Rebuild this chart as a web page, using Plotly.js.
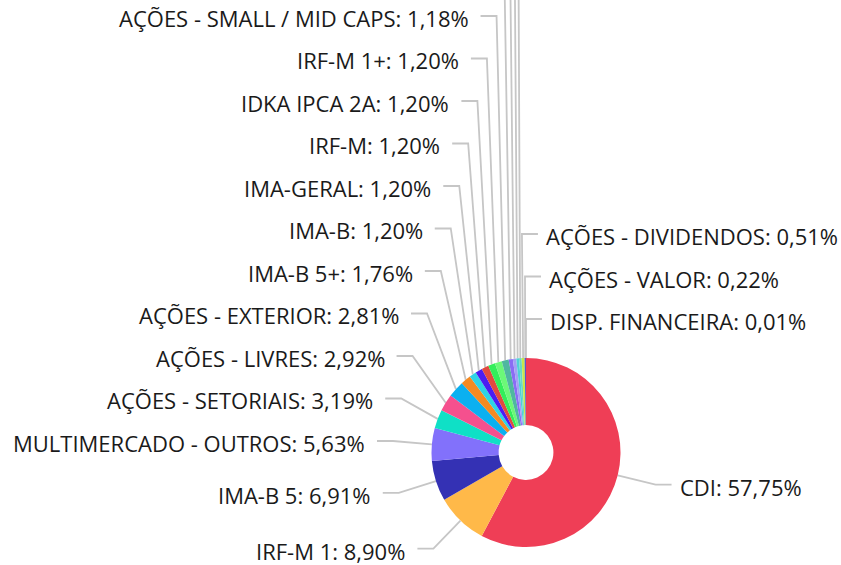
<!DOCTYPE html>
<html>
<head>
<meta charset="utf-8">
<script src="https://cdn.plot.ly/plotly-3.0.1.min.js"></script>
<style>
html, body { margin: 0; padding: 0; background: #ffffff; }
#chart { width: 841px; height: 565px; }
</style>
</head>
<body>
<div id="chart"></div>
<script>
// ---- data (percent of portfolio, clockwise from 12 o'clock) ----
const categories = [
  "CDI", "IRF-M 1", "IMA-B 5", "MULTIMERCADO - OUTROS", "AÇÕES - SETORIAIS",
  "AÇÕES - LIVRES", "AÇÕES - EXTERIOR", "IMA-B 5+", "IMA-B", "IMA-GERAL",
  "IRF-M", "IDKA IPCA 2A", "IRF-M 1+", "AÇÕES - SMALL / MID CAPS",
  "FUNDO IMOBILIÁRIO", "CRÉDITO PRIVADO", "IDKA IPCA 3A", "AÇÕES - ÍNDICE ATIVO",
  "AÇÕES - DIVIDENDOS", "AÇÕES - VALOR", "DISP. FINANCEIRA"
];
const values = [
  57.75, 8.90, 6.91, 5.63, 3.19,
  2.92, 2.81, 1.76, 1.20, 1.20,
  1.20, 1.20, 1.20, 1.18,
  0.72, 0.58, 0.47, 0.44,
  0.51, 0.22, 0.01
];
const colors = [
  "#ef3e56", "#ffb949", "#3431b4", "#8271fb", "#0fe0c6",
  "#f5508e", "#0bb0f0", "#f58a22", "#2fd3e6", "#4b1df2",
  "#e14a3f", "#33ee5a", "#6cf878", "#4fb7a0",
  "#8a6cf4", "#a3a0f5", "#4fd0d8", "#6ad9c4",
  "#c5e84a", "#4a4ad0", "#999999"
];

// ---- layout constants (pixels) ----
const W = 841, H = 565;
const CX = 526, CY = 452.5, R = 94.5, HOLE = 0.29;
const LEN = 39, LEN2 = 16, GAP_L = 10, GAP_R = 6, SPACING = 42.5, TEXT_DY = 2;

const fmt = v => v.toFixed(2).replace('.', ',') + '%';

// ---- label layout computed from the data ----
const total = values.reduce((a, b) => a + b, 0);
let cum = 0;
const items = values.map((v, i) => {
  const mid = (cum + v / 2) / total * 2 * Math.PI;
  cum += v;
  const s = Math.sin(mid), c = Math.cos(mid);
  return {
    i, mid, s, c,
    side: s > -0.05 ? 'right' : 'left',
    px: CX + R * s, py: CY - R * c,
    ex: CX + (R + LEN) * s,
    ideal: CY - (R + LEN) * c
  };
});

const right = items.filter(d => d.side === 'right')
  .map(d => Object.assign(d, {ang: d.mid > Math.PI ? d.mid - 2 * Math.PI : d.mid}))
  .sort((a, b) => b.ang - a.ang);
const left = items.filter(d => d.side === 'left').sort((a, b) => a.mid - b.mid);

[right, left].forEach(list => {
  let prev = null;
  list.forEach(d => {
    d.y = prev === null ? d.ideal : Math.min(d.ideal, prev - SPACING);
    prev = d.y;
  });
});

const lx = [], ly = [];
const annotations = [];
items.forEach(d => {
  const dir = d.side === 'right' ? 1 : -1;
  const hx = d.ex + dir * LEN2;
  lx.push(d.px, d.ex, hx, null);
  ly.push(d.py, d.y, d.y, null);
  annotations.push({
    xref: 'x', yref: 'y',
    x: hx + dir * (d.side === 'right' ? GAP_R : GAP_L),
    y: d.y + TEXT_DY,
    xanchor: d.side === 'right' ? 'left' : 'right',
    yanchor: 'middle',
    text: categories[d.i] + ': ' + fmt(values[d.i]),
    showarrow: false,
    font: {family: 'Open Sans', size: 22, color: '#1a1a1a'}
  });
});

const traces = [
  {
    type: 'scatter', mode: 'lines', x: lx, y: ly,
    line: {color: '#c6c6c6', width: 1.8},
    hoverinfo: 'skip', showlegend: false, connectgaps: false
  },
  {
    type: 'pie',
    labels: categories, values: values,
    marker: {colors: colors, line: {width: 0}},
    hole: HOLE, sort: false, direction: 'clockwise', rotation: 0,
    textinfo: 'none', showlegend: false,
    domain: {
      x: [(CX - R) / W, (CX + R) / W],
      y: [(H - CY - R) / H, (H - CY + R) / H]
    }
  }
];

const layout = {
  width: W, height: H,
  margin: {l: 0, r: 0, t: 0, b: 0, pad: 0},
  paper_bgcolor: '#ffffff', plot_bgcolor: 'rgba(0,0,0,0)',
  xaxis: {range: [0, W], visible: false, fixedrange: true, domain: [0, 1]},
  yaxis: {range: [H, 0], visible: false, fixedrange: true, domain: [0, 1]},
  annotations: annotations,
  showlegend: false
};

Plotly.newPlot('chart', traces, layout, {displayModeBar: false, staticPlot: true});
</script>
</body>
</html>
